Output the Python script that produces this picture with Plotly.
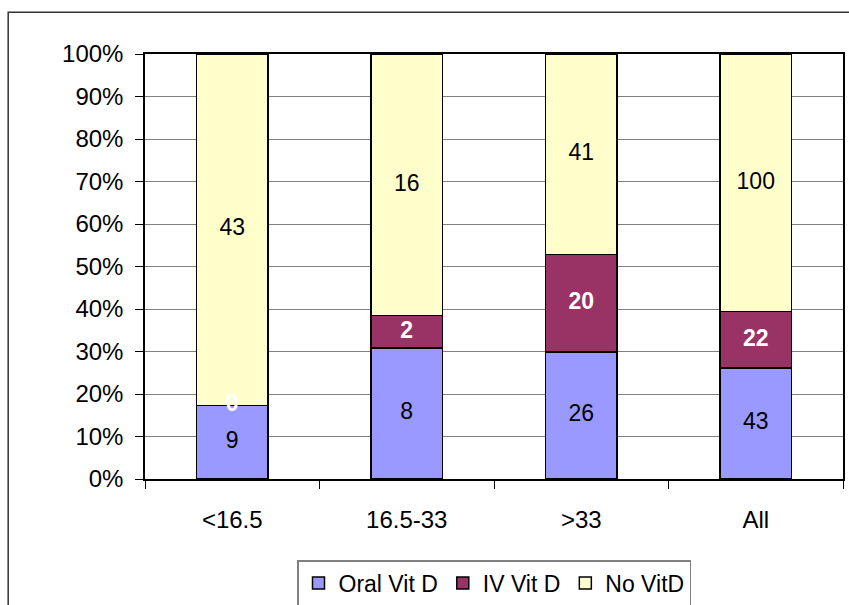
import plotly.graph_objects as go

categories = ["<16.5", "16.5-33", ">33", "All"]
oral_vit_d = [9, 8, 26, 43]
iv_vit_d = [0, 2, 20, 22]
no_vit_d = [43, 16, 41, 100]

series = [
    ("Oral Vit D", oral_vit_d, "#9999FF", "black", False),
    ("IV Vit D", iv_vit_d, "#993366", "white", True),
    ("No VitD", no_vit_d, "#FFFFCC", "black", False),
]

FONT = "Liberation Sans, Arial, sans-serif"
fig = go.Figure()

for name, vals, color, _, _ in series:
    fig.add_trace(go.Bar(
        x=categories, y=vals, name=name,
        marker=dict(color=color, line=dict(color="black", width=1.5)),
        width=0.41, hoverinfo="skip",
    ))

# value labels placed at the middle of each normalised segment
totals = [sum(v) for v in zip(oral_vit_d, iv_vit_d, no_vit_d)]
base = [0.0] * len(categories)
for name, vals, _, tcolor, bold in series:
    mids = []
    for i, v in enumerate(vals):
        pct = 100.0 * v / totals[i]
        mids.append(base[i] + pct / 2)
        base[i] += pct
    txt = [f"<b>{v}</b>" if bold else str(v) for v in vals]
    fig.add_trace(go.Scatter(
        x=categories, y=mids, mode="text", text=txt,
        textfont=dict(family=FONT, size=23, color=tcolor),
        showlegend=False, hoverinfo="skip",
    ))

fig.update_layout(
    barmode="stack", barnorm="percent",
    width=849, height=605,
    margin=dict(l=145, r=6, t=54, b=126, autoexpand=False),
    plot_bgcolor="white", paper_bgcolor="white",
    font=dict(family=FONT, size=23, color="black"),
    showlegend=True,
    legend=dict(
        orientation="h", x=0.5, xanchor="center",
        yref="container", y=1 - 560 / 605, yanchor="top",
        bordercolor="#808080", borderwidth=1.5,
        font=dict(family=FONT, size=23, color="black"),
        traceorder="normal", itemwidth=30,
    ),
    xaxis=dict(
        showline=True, linecolor="black", linewidth=1.5, mirror=True,
        ticks="outside", tickson="boundaries", ticklen=8, tickcolor="black",
        ticklabelstandoff=18, showgrid=False,
        tickfont=dict(family=FONT, size=24, color="black"),
    ),
    yaxis=dict(
        range=[0, 100], dtick=10, ticksuffix="%",
        showline=True, linecolor="black", linewidth=1.5, mirror=True,
        ticks="outside", ticklen=8, tickcolor="black",
        showgrid=True, gridcolor="#808080", gridwidth=1.2,
        ticklabelstandoff=7, zeroline=False,
        tickfont=dict(family=FONT, size=24, color="black"),
    ),
    shapes=[dict(
        type="rect", xref="paper", yref="paper",
        x0=-0.196, y0=1.098, x1=1.2, y1=-0.5,
        line=dict(color="#333333", width=1.5), layer="below",
    )],
)

fig.write_html("out.html")
